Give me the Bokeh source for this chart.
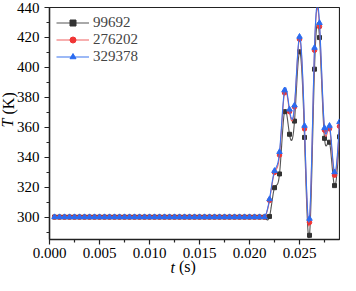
import numpy as np
from bokeh.plotting import figure
from bokeh.models import (Range1d, FixedTicker, NumeralTickFormatter, Legend,
                          LegendItem, Title)
from bokeh.embed import file_html
from bokeh.resources import INLINE

# ---------------- data ----------------
time_s = [0.0005, 0.0010, 0.0015, 0.0020, 0.0025, 0.0030, 0.0035, 0.0040,
          0.0045, 0.0050, 0.0055, 0.0060, 0.0065, 0.0070, 0.0075, 0.0080,
          0.0085, 0.0090, 0.0095, 0.0100, 0.0105, 0.0110, 0.0115, 0.0120,
          0.0125, 0.0130, 0.0135, 0.0140, 0.0145, 0.0150, 0.0155, 0.0160,
          0.0165, 0.0170, 0.0175, 0.0180, 0.0185, 0.0190, 0.0195, 0.0200,
          0.0205, 0.0210, 0.0215, 0.0220, 0.0225, 0.0230, 0.0235, 0.0240,
          0.0245, 0.0250, 0.0255, 0.0260, 0.0265, 0.0270, 0.0275, 0.0280,
          0.0285, 0.0290]
n_flat = 43  # points at the initial 300 K plateau (0.0005 .. 0.0215 s)
T_99692 = [300.0] * n_flat + [300.4, 319.6, 328.8, 370.4, 355.3, 364.1, 410.4,
                              353.2, 287.8, 398.8, 419.9, 352.6, 350.0, 321.0, 353.6]
T_276202 = [300.0] * n_flat + [311.1, 329.8, 341.4, 383.0, 370.4, 373.6, 418.8,
                               358.9, 296.4, 411.4, 427.2, 358.0, 359.0, 328.0, 360.6]
T_329378 = [300.0] * n_flat + [312.0, 330.9, 343.5, 384.7, 371.9, 374.6, 420.5,
                               361.0, 298.9, 413.1, 429.7, 359.5, 361.0, 330.0, 363.5]
series_names = ["99692", "276202", "329378"]
x_ticks = [0.000, 0.005, 0.010, 0.015, 0.020, 0.025]
x_minor = [0.0025, 0.0075, 0.0125, 0.0175, 0.0225, 0.0275]
y_ticks = [300, 320, 340, 360, 380, 400, 420, 440]
y_minor = [290, 310, 330, 350, 370, 390, 410, 430]
x_title = ("t", "(s)")   # symbol (italic), unit
y_title = ("T", "(K)")

FONT = "Liberation Serif"
TITLE_SIZE = "16px"
H = 18  # approx. text box height of a 16px title, used to overlap title pieces


def spline_curve(x, y, n=16):
    """Natural cubic spline through the data points (for the connecting line)."""
    x = np.asarray(x, float)
    y = np.asarray(y, float)
    N = len(x)
    h = np.diff(x)
    A = np.zeros((N, N))
    r = np.zeros(N)
    A[0, 0] = A[-1, -1] = 1.0
    for i in range(1, N - 1):
        A[i, i - 1] = h[i - 1]
        A[i, i] = 2 * (h[i - 1] + h[i])
        A[i, i + 1] = h[i]
        r[i] = 3 * ((y[i + 1] - y[i]) / h[i] - (y[i] - y[i - 1]) / h[i - 1])
    c = np.linalg.solve(A, r)
    b = (y[1:] - y[:-1]) / h - h * (2 * c[:-1] + c[1:]) / 3
    d = (c[1:] - c[:-1]) / (3 * h)
    xs, ys = [], []
    for i in range(N - 1):
        tt = np.linspace(0, h[i], n, endpoint=False)
        xs.extend(x[i] + tt)
        ys.extend(y[i] + b[i] * tt + c[i] * tt ** 2 + d[i] * tt ** 3)
    xs.append(x[-1])
    ys.append(y[-1])
    return xs, ys


p = figure(width=340, height=275, output_backend="svg", toolbar_location=None,
           x_range=Range1d(0, 0.029), y_range=Range1d(285, 440),
           min_border_left=49, min_border_right=1, min_border_top=7,
           min_border_bottom=36)
p.background_fill_color = "white"
p.border_fill_color = "white"
p.grid.visible = False
p.outline_line_color = "#222222"
p.outline_line_width = 1.2

for ax in (p.xaxis[0], p.yaxis[0]):
    ax.axis_line_color = "#222222"
    ax.axis_line_width = 1.4
    ax.major_tick_line_color = "#222222"
    ax.minor_tick_line_color = "#222222"
    ax.major_tick_line_width = 1.2
    ax.minor_tick_line_width = 1.2
    ax.major_tick_in = 0
    ax.major_tick_out = 5
    ax.minor_tick_in = 0
    ax.minor_tick_out = 3
    ax.major_label_text_font = FONT
    ax.major_label_text_font_size = "15px"
    ax.major_label_text_color = "black"

p.xaxis.ticker = FixedTicker(ticks=x_ticks, minor_ticks=x_minor)
p.yaxis.ticker = FixedTicker(ticks=y_ticks, minor_ticks=y_minor)
p.xaxis.formatter = NumeralTickFormatter(format="0.000")
p.xaxis.major_label_standoff = 3
p.yaxis.major_label_standoff = 5

styles = [
    dict(color="#333333", line="#555555", marker="square", size=4),
    dict(color="#F03434", line="#F06060", marker="circle", size=4.5),
    dict(color="#2B6BF0", line="#3A74EE", marker="triangle", size=5.5),
]
items = []
for name, vals, st in zip(series_names, [T_99692, T_276202, T_329378], styles):
    xs, ys = spline_curve(time_s, vals)
    lr = p.line(xs, ys, line_color=st["line"], line_width=1.1)
    mr = p.scatter(time_s, vals, marker=st["marker"], size=st["size"],
                   fill_color=st["color"], line_color=st["color"])
    items.append(LegendItem(label=name, renderers=[lr, mr]))

legend = Legend(items=items, location="top_left", margin=0, padding=7,
                spacing=-2, glyph_width=33, glyph_height=15, label_height=15,
                label_standoff=4, border_line_alpha=0, background_fill_alpha=0,
                label_text_font=FONT, label_text_font_size="15px")
p.add_layout(legend)


def title_piece(text, italic, offset, valign, standoff):
    return Title(text=text, align="left", offset=offset, vertical_align=valign,
                 standoff=standoff, text_font=FONT, text_font_size=TITLE_SIZE,
                 text_font_style="italic" if italic else "normal",
                 text_color="black")


# x-axis title: spacer + two pieces in two stacked panels, pulled onto one line
p.add_layout(Title(text=" ", text_font_size="1px", standoff=2), "below")
p.add_layout(title_piece(x_title[0], True, 121, "bottom", -H), "below")
p.add_layout(title_piece(x_title[1], False, 129.5, "top", -H), "below")

# y-axis title: spacer + two pieces, pulled onto one line
p.add_layout(Title(text=" ", text_font_size="1px", standoff=2), "left")
p.add_layout(title_piece(y_title[0], True, 112, "top", -H), "left")
p.add_layout(title_piece(y_title[1], False, 125, "bottom", -H), "left")

open("out.html", "w").write(file_html(p, INLINE))
